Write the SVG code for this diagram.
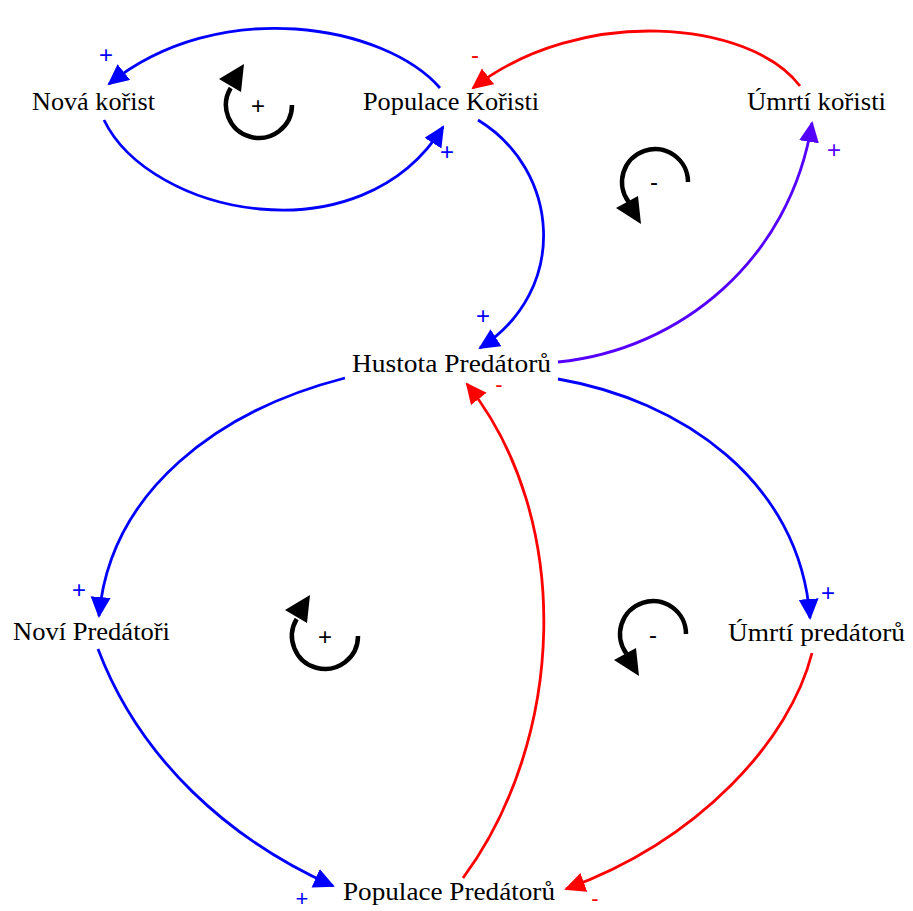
<svg xmlns="http://www.w3.org/2000/svg" width="913" height="911" viewBox="0 0 913 911">
  <style>
    .lbl { font-family: "Liberation Serif", "Times New Roman", serif; font-size: 25px; fill: #000; }
    .pol { font-family: "Liberation Sans", Arial, sans-serif; font-size: 24px; text-anchor: middle; }
    .pols { font-family: "Liberation Sans", Arial, sans-serif; font-size: 22px; text-anchor: middle; }
    .c { fill: none; stroke-width: 2.8; }
    .blue { stroke: #0000ff; }
    .red { stroke: #ff0000; }
    .purple { stroke: #5500ff; }
    .loop { fill: none; stroke: #000; stroke-width: 4.5; }
  </style>
  <defs>
    <marker id="ab" markerUnits="userSpaceOnUse" markerWidth="24" markerHeight="22" refX="19" refY="10" orient="auto">
      <path d="M0,0 L21,10 L0,20 Z" fill="#0000ff"/>
    </marker>
    <marker id="ar" markerUnits="userSpaceOnUse" markerWidth="24" markerHeight="22" refX="19" refY="10" orient="auto">
      <path d="M0,0 L21,10 L0,20 Z" fill="#ff0000"/>
    </marker>
    <marker id="ap" markerUnits="userSpaceOnUse" markerWidth="24" markerHeight="22" refX="19" refY="10" orient="auto">
      <path d="M0,0 L21,10 L0,20 Z" fill="#5500ff"/>
    </marker>
    <g id="loopPos">
      <path class="loop" d="M292,105 A33,33 0 1 1 230.7,88"/>
      <polygon points="244,64 219,79 241,92" fill="#000"/>
    </g>
    <g id="loopNeg">
      <path class="loop" d="M688,182 A33,33 0 1 0 628.6,201.9"/>
      <polygon points="641,224 616,208 638,196" fill="#000"/>
    </g>
  </defs>
  <rect width="913" height="911" fill="#fff"/>

  <g id="connectors">
    <path class="c blue" d="M440,88 C385,25 220,-5 109,84" marker-end="url(#ab)"/>
    <path class="c blue" d="M104,120 C150,215 360,260 443,127" marker-end="url(#ab)"/>
    <path class="c red" d="M800,86 C750,20 580,5 473,88" marker-end="url(#ar)"/>
    <path class="c blue" d="M478,120 C560,170 570,290 480,348" marker-end="url(#ab)"/>
    <path class="c purple" d="M558,362 C680,350 790,260 812,123" marker-end="url(#ap)"/>
    <path class="c blue" d="M345,378 C220,410 110,490 99,616" marker-end="url(#ab)"/>
    <path class="c blue" d="M558,379 C680,400 800,480 810,618" marker-end="url(#ab)"/>
    <path class="c blue" d="M98,649 C140,760 230,840 333,886" marker-end="url(#ab)"/>
    <path class="c red" d="M812,653 C790,740 700,840 566,889" marker-end="url(#ar)"/>
    <path class="c red" d="M463,878 C565,740 575,520 467,384" marker-end="url(#ar)"/>
  </g>

  <g id="polarities">
    <text class="pol" x="106" y="62.5" fill="#0000ff">+</text>
    <text class="pol" x="447" y="159.5" fill="#0000ff">+</text>
    <text class="pol" x="475" y="62.5" fill="#ff0000">-</text>
    <text class="pol" x="483" y="323.5" fill="#0000ff">+</text>
    <text class="pol" x="834" y="157.5" fill="#5500ff">+</text>
    <text class="pols" x="499" y="392" fill="#ff0000">-</text>
    <text class="pol" x="79" y="597.5" fill="#0000ff">+</text>
    <text class="pol" x="828" y="600.5" fill="#0000ff">+</text>
    <text class="pols" x="302" y="906" fill="#0000ff">+</text>
    <text class="pols" x="595" y="906" fill="#ff0000">-</text>
  </g>

  <g id="loops">
    <g id="loop-R1">
      <use href="#loopPos"/>
      <text class="pol" x="258" y="113.5" fill="#000">+</text>
    </g>
    <g id="loop-B1">
      <use href="#loopNeg"/>
      <text class="pol" x="654" y="189.5" fill="#000">-</text>
    </g>
    <g id="loop-R2">
      <use href="#loopPos" transform="translate(66,531)"/>
      <text class="pol" x="325" y="644.5" fill="#000">+</text>
    </g>
    <g id="loop-B2">
      <use href="#loopNeg" transform="translate(-2,452)"/>
      <text class="pol" x="653" y="642.5" fill="#000">-</text>
    </g>
  </g>

  <g id="node-nova-korist">
    <text class="lbl" x="32" y="110" textLength="123" lengthAdjust="spacingAndGlyphs">Nová kořist</text>
  </g>
  <g id="node-populace-koristi">
    <text class="lbl" x="363" y="110" textLength="176" lengthAdjust="spacingAndGlyphs">Populace Kořisti</text>
  </g>
  <g id="node-umrti-koristi">
    <text class="lbl" x="747" y="110" textLength="139" lengthAdjust="spacingAndGlyphs">Úmrtí kořisti</text>
  </g>
  <g id="node-hustota-predatoru">
    <text class="lbl" x="352" y="372" textLength="199" lengthAdjust="spacingAndGlyphs">Hustota Predátorů</text>
  </g>
  <g id="node-novi-predatori">
    <text class="lbl" x="13" y="640" textLength="157" lengthAdjust="spacingAndGlyphs">Noví Predátoři</text>
  </g>
  <g id="node-umrti-predatoru">
    <text class="lbl" x="728" y="641" textLength="177" lengthAdjust="spacingAndGlyphs">Úmrtí predátorů</text>
  </g>
  <g id="node-populace-predatoru">
    <text class="lbl" x="343" y="900" textLength="212" lengthAdjust="spacingAndGlyphs">Populace Predátorů</text>
  </g>
</svg>
